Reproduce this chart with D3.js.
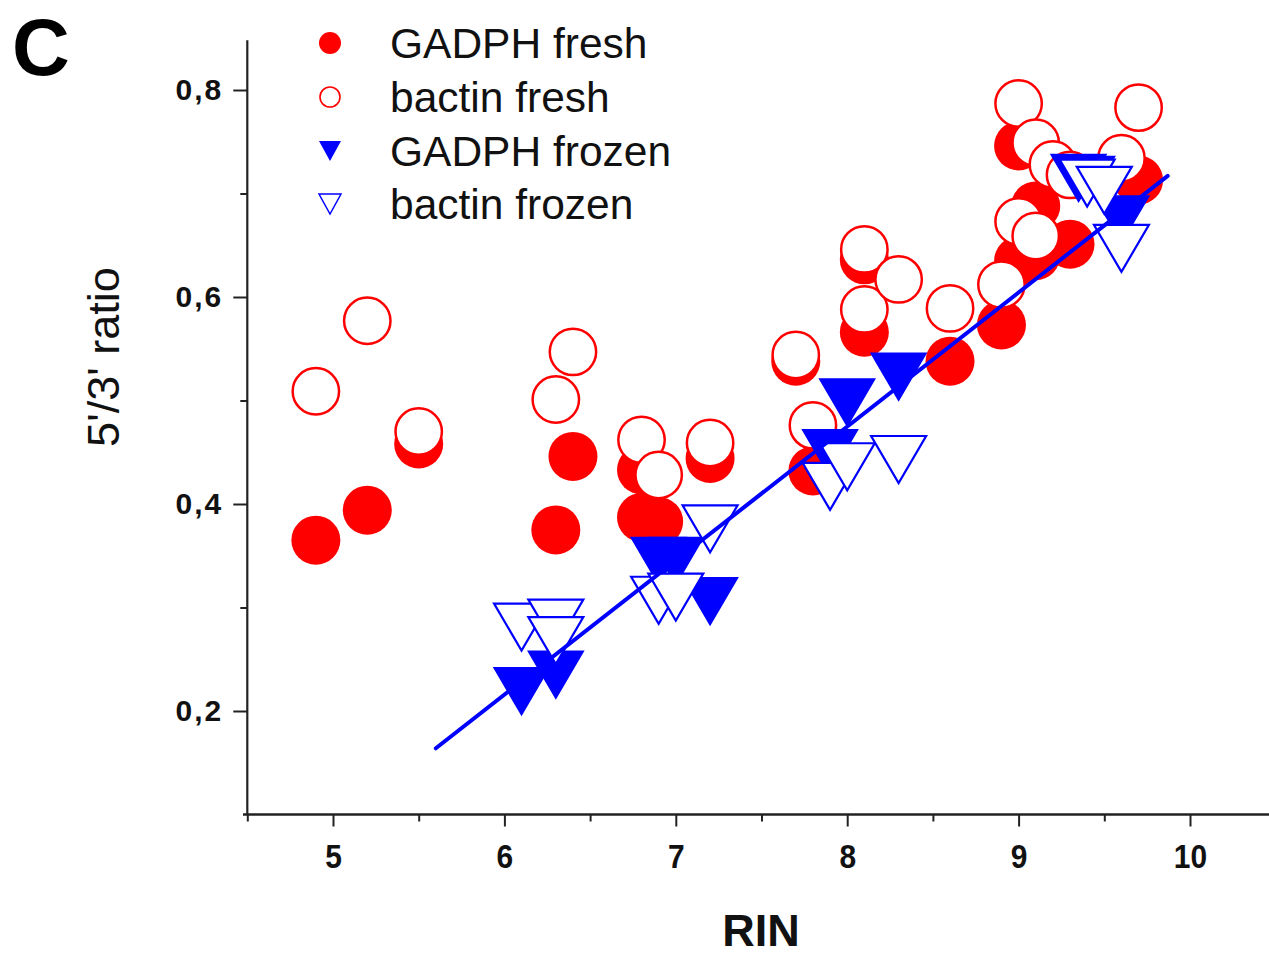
<!DOCTYPE html>
<html>
<head>
<meta charset="utf-8">
<script src="https://cdn.jsdelivr.net/npm/d3@7"></script>
<style>
  html, body { margin: 0; padding: 0; background: #fff; }
  svg { display: block; }
</style>
</head>
<body>
<svg id="chart" width="1269" height="959"></svg>
<script>
// ---------------- DATA ----------------
const seriesNames = ["GADPH fresh", "bactin fresh", "GADPH frozen", "bactin frozen"];

const gadphFreshRIN   = [4.9, 5.2, 5.5, 6.3, 6.4, 6.8, 6.8, 6.9, 7.2, 7.7, 7.8, 8.1, 8.1, 8.6, 8.9, 9.0, 9.0, 9.1, 9.1, 9.3, 9.7];
const gadphFreshRatio = [0.365, 0.394, 0.458, 0.375, 0.446, 0.433, 0.387, 0.383, 0.444, 0.538, 0.432, 0.636, 0.566, 0.538, 0.573, 0.746, 0.635, 0.688, 0.640, 0.651, 0.713];

const bactinFreshRIN   = [4.9, 5.2, 5.5, 6.3, 6.4, 6.8, 6.9, 7.2, 7.7, 7.8, 8.1, 8.1, 8.3, 8.6, 8.9, 9.0, 9.0, 9.1, 9.1, 9.2, 9.3, 9.6, 9.7];
const bactinFreshRatio = [0.509, 0.577, 0.470, 0.501, 0.547, 0.462, 0.428, 0.459, 0.544, 0.476, 0.646, 0.588, 0.617, 0.589, 0.612, 0.787, 0.673, 0.749, 0.659, 0.728, 0.718, 0.734, 0.783];

const gadphFrozenRIN   = [6.1, 6.3, 6.9, 7.0, 7.2, 7.9, 8.0, 8.3, 9.35, 9.4, 9.6];
const gadphFrozenRatio = [0.219, 0.235, 0.345, 0.345, 0.306, 0.449, 0.498, 0.523, 0.715, 0.713, 0.675];

const bactinFrozenRIN   = [6.1, 6.3, 6.3, 6.9, 7.0, 7.2, 7.9, 8.0, 8.3, 9.4, 9.5, 9.6];
const bactinFrozenRatio = [0.281, 0.285, 0.268, 0.307, 0.310, 0.376, 0.417, 0.436, 0.443, 0.710, 0.703, 0.647];

// linear fit line (frozen samples)
const fitRIN   = [5.6, 9.87];
const fitRatio = [0.164, 0.717];

const xMajorTicks = [5, 6, 7, 8, 9, 10];
const xMinorTicks = [4.5, 5.5, 6.5, 7.5, 8.5, 9.5, 10.5];
const yMajorTicks = [0.2, 0.4, 0.6, 0.8];
const yMinorTicks = [0.3, 0.5, 0.7];
const yTickLabels = ["0,2", "0,4", "0,6", "0,8"];

const panelLabel = "C";
const xTitle = "RIN";
const yTitle = "5'/3' ratio";

// ---------------- CHART ----------------
const RED = "#ff0000", BLUE = "#0000ff";
const svg = d3.select("#chart");

const x = d3.scaleLinear().domain([4.5, 11]).range([247.3, 247.3 + 6.5 * 171.4]);
const y = d3.scaleLinear().domain([0.1, 0.85]).range([814.5, 38.25]);

const textFont = "'Liberation Sans', Arial, 'DejaVu Sans', sans-serif";

// axes
const gx = svg.append("g").attr("transform", `translate(0,${y(0.1)})`);
gx.call(d3.axisBottom(x).tickValues(xMajorTicks).tickSize(12).tickPadding(17).tickFormat(d3.format("d")));
gx.append("g").call(d3.axisBottom(x).tickValues(xMinorTicks).tickSize(7).tickFormat(""))
  .select(".domain").remove();
gx.select(".domain").attr("d", `M${243},0H1269`);
gx.selectAll("line").attr("stroke", "#222").attr("stroke-width", 2);
gx.selectAll(".domain").attr("stroke", "#222").attr("stroke-width", 2.4);
gx.selectAll(".tick text").attr("font-family", textFont).attr("font-weight", "bold")
  .attr("font-size", 34).attr("fill", "#111")
  .attr("transform", "scale(0.88,1)");

const gy = svg.append("g").attr("transform", `translate(${x(4.5)},0)`);
gy.call(d3.axisLeft(y).tickValues(yMajorTicks).tickSize(14).tickPadding(10)
  .tickFormat((d, i) => yTickLabels[i]));
gy.append("g").call(d3.axisLeft(y).tickValues(yMinorTicks).tickSize(7).tickFormat(""))
  .select(".domain").remove();
gy.select(".domain").attr("d", `M0,${y(0.1)}V${y(0.848)}`);
gy.selectAll("line").attr("stroke", "#222").attr("stroke-width", 2);
gy.selectAll(".domain").attr("stroke", "#222").attr("stroke-width", 2.2);
gy.selectAll(".tick text").attr("font-family", textFont).attr("font-weight", "bold")
  .attr("font-size", 30).attr("letter-spacing", 2).attr("fill", "#111");

// symbol: downward triangle centred on its bounding box
function triDown(w, h) {
  return {
    draw(ctx) {
      ctx.moveTo(-w / 2, -h / 2);
      ctx.lineTo(w / 2, -h / 2);
      ctx.lineTo(0, h / 2);
      ctx.closePath();
    }
  };
}
const bigTri = d3.symbol().type(triDown(55, 47));
const smallTri = d3.symbol().type(triDown(22, 20));

const zip = (a, b) => a.map((v, i) => [v, b[i]]);

const plot = svg.append("g");
// GADPH fresh - filled red circles
plot.append("g").selectAll("circle").data(zip(gadphFreshRIN, gadphFreshRatio)).join("circle")
  .attr("cx", d => x(d[0])).attr("cy", d => y(d[1])).attr("r", 24.5).attr("fill", RED);
// bactin fresh - open red circles
plot.append("g").selectAll("circle").data(zip(bactinFreshRIN, bactinFreshRatio)).join("circle")
  .attr("cx", d => x(d[0])).attr("cy", d => y(d[1])).attr("r", 23.2)
  .attr("fill", "#fff").attr("stroke", RED).attr("stroke-width", 2.5);
// GADPH frozen - filled blue triangles
plot.append("g").selectAll("path").data(zip(gadphFrozenRIN, gadphFrozenRatio)).join("path")
  .attr("transform", d => `translate(${x(d[0])},${y(d[1])})`).attr("d", bigTri())
  .attr("fill", BLUE).attr("stroke", BLUE).attr("stroke-width", 1.5).attr("stroke-linejoin", "miter");
// bactin frozen - open blue triangles
plot.append("g").selectAll("path").data(zip(bactinFrozenRIN, bactinFrozenRatio)).join("path")
  .attr("transform", d => `translate(${x(d[0])},${y(d[1])})`).attr("d", bigTri())
  .attr("fill", "#fff").attr("stroke", BLUE).attr("stroke-width", 2.2).attr("stroke-linejoin", "miter");

// fit line
plot.append("path").datum(zip(fitRIN, fitRatio))
  .attr("d", d3.line().x(d => x(d[0])).y(d => y(d[1])))
  .attr("fill", "none").attr("stroke", BLUE).attr("stroke-width", 4).attr("stroke-linecap", "round");

// legend
const legendY = [43, 97, 151, 204];
const lg = svg.append("g");
lg.append("circle").attr("cx", 330).attr("cy", legendY[0]).attr("r", 11).attr("fill", RED);
lg.append("circle").attr("cx", 330).attr("cy", legendY[1]).attr("r", 10)
  .attr("fill", "#fff").attr("stroke", RED).attr("stroke-width", 1.6);
lg.append("path").attr("transform", `translate(330,${legendY[2]})`).attr("d", smallTri()).attr("fill", BLUE);
lg.append("path").attr("transform", `translate(330,${legendY[3]})`).attr("d", smallTri())
  .attr("fill", "#fff").attr("stroke", BLUE).attr("stroke-width", 1.5);
lg.selectAll("text").data(seriesNames).join("text")
  .attr("x", 390).attr("y", (d, i) => legendY[i]).attr("dy", "0.36em")
  .attr("font-family", textFont).attr("font-size", 42.5).attr("fill", "#111")
  .text(d => d);

// titles
svg.append("text").attr("x", 12).attr("y", 75).attr("font-family", textFont)
  .attr("font-weight", "bold").attr("font-size", 80).attr("fill", "#000").text(panelLabel);
svg.append("text").attr("x", 761).attr("y", 946).attr("text-anchor", "middle")
  .attr("font-family", textFont).attr("font-weight", "bold").attr("font-size", 45).attr("fill", "#111").text(xTitle);
svg.append("text").attr("transform", "translate(103,357) rotate(-90)").attr("text-anchor", "middle")
  .attr("dy", "0.36em").attr("font-family", textFont).attr("font-size", 45).attr("fill", "#111").text(yTitle);
</script>
</body>
</html>
